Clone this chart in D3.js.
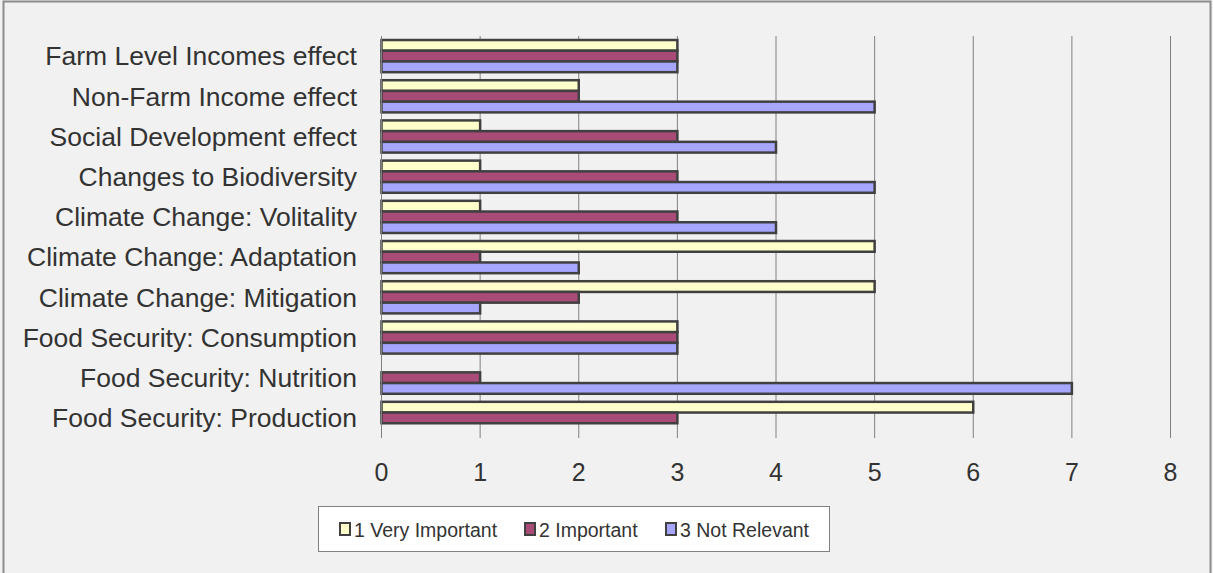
<!DOCTYPE html>
<html>
<head>
<meta charset="utf-8">
<script src="https://cdn.jsdelivr.net/npm/d3@7"></script>
<style>
  body { margin: 0; background: #f1f1f1; }
  svg { display: block; font-family: "Liberation Sans", Arial, sans-serif; }
</style>
</head>
<body>
<svg id="chart" width="1213" height="573"></svg>
<script>
var categories = [
  "Farm Level Incomes effect",
  "Non-Farm Income effect",
  "Social Development effect",
  "Changes to Biodiversity",
  "Climate Change: Volitality",
  "Climate Change: Adaptation",
  "Climate Change: Mitigation",
  "Food Security: Consumption",
  "Food Security: Nutrition",
  "Food Security: Production"
];
var seriesNames = ["1 Very Important", "2 Important", "3 Not Relevant"];
var veryImportant = [3, 2, 1, 1, 1, 5, 5, 3, 0, 6];
var important     = [3, 2, 3, 3, 3, 1, 2, 3, 1, 3];
var notRelevant   = [3, 5, 4, 5, 4, 2, 1, 3, 7, 0];
var colors = ["#ffffcc", "#a94b77", "#a6a6ff"];
var xTicks = [0, 1, 2, 3, 4, 5, 6, 7, 8];

var series = [veryImportant, important, notRelevant];

var svg = d3.select("#chart");

// outer frame (chart area border)
svg.append("rect")
  .attr("x", 3.5).attr("y", 1.5)
  .attr("width", 1207).attr("height", 580)
  .attr("fill", "#f1f1f1")
  .attr("stroke", "#8c8c8c").attr("stroke-width", 2);

var x = d3.scaleLinear().domain([0, 8]).range([381.5, 1170.5]);
var y = d3.scaleBand().domain(categories).range([36, 438]).paddingInner(0.2).paddingOuter(0.1);
var ySub = d3.scaleBand().domain(d3.range(3)).range([0, y.bandwidth()]);

// gridlines
svg.append("g")
  .selectAll("line")
  .data(xTicks.slice(1))
  .join("line")
  .attr("x1", d => x(d)).attr("x2", d => x(d))
  .attr("y1", 36).attr("y2", 438)
  .attr("stroke", "#808080").attr("stroke-width", 1);

// bars
var groups = svg.append("g")
  .selectAll("g")
  .data(categories)
  .join("g")
  .attr("transform", d => "translate(0," + y(d) + ")");

groups.selectAll("rect")
  .data((d, i) => series.map((s, k) => ({ k: k, v: s[i] })).filter(e => e.v > 0))
  .join("rect")
  .attr("x", x(0))
  .attr("y", d => ySub(d.k))
  .attr("width", d => x(d.v) - x(0))
  .attr("height", ySub.bandwidth())
  .attr("fill", d => colors[d.k])
  .attr("stroke", "#404040")
  .attr("stroke-width", 2.5);

// axis line
svg.append("line")
  .attr("x1", x(0)).attr("x2", x(0))
  .attr("y1", 36).attr("y2", 438)
  .attr("stroke", "#808080").attr("stroke-width", 1);

// category labels
svg.append("g")
  .selectAll("text")
  .data(categories)
  .join("text")
  .attr("x", 357)
  .attr("y", d => y(d) + y.bandwidth() / 2)
  .attr("dy", "0.35em")
  .attr("text-anchor", "end")
  .attr("font-size", 26.5)
  .attr("fill", "#333")
  .text(d => d);

// x tick labels
svg.append("g")
  .selectAll("text")
  .data(xTicks)
  .join("text")
  .attr("x", d => x(d))
  .attr("y", 472)
  .attr("dy", "0.35em")
  .attr("text-anchor", "middle")
  .attr("font-size", 25)
  .attr("fill", "#333")
  .text(d => d);

// legend
var legend = svg.append("g");
legend.append("rect")
  .attr("x", 318.5).attr("y", 506.5)
  .attr("width", 511).attr("height", 45)
  .attr("fill", "#fff")
  .attr("stroke", "#808080").attr("stroke-width", 1);

var legendX = [340, 525, 666];
var items = legend.selectAll("g")
  .data(seriesNames)
  .join("g")
  .attr("transform", (d, i) => "translate(" + legendX[i] + ",530)");
items.append("rect")
  .attr("x", 0).attr("y", -7)
  .attr("width", 10).attr("height", 12)
  .attr("fill", (d, i) => colors[i])
  .attr("stroke", "#404040").attr("stroke-width", 2);
items.append("text")
  .attr("x", 14).attr("y", 0)
  .attr("dy", "0.35em")
  .attr("font-size", 19.5)
  .attr("fill", "#333")
  .text(d => d);
</script>
</body>
</html>
